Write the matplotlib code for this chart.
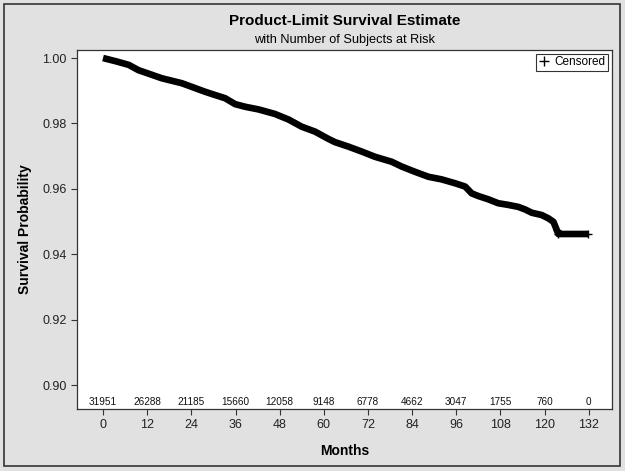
import matplotlib
matplotlib.use("Agg")
import matplotlib.pyplot as plt
from matplotlib.lines import Line2D
from matplotlib.patches import Rectangle

plt.rcParams['font.family'] = ['Liberation Sans', 'DejaVu Sans']

months = [0, 3.5, 7, 9.6, 16, 21.4, 27.7, 30.4, 33.2, 35.9, 38.6, 42.2, 46.7, 50.4,
          54, 57.6, 61.2, 63, 66.7, 70.3, 73.9, 78.4, 81.2, 84.8, 88.4, 92, 95.7,
          98.4, 100.2, 102, 104.7, 107.4, 110.1, 112.8, 114.7, 116.5, 119.2, 121,
          122.4, 123.3, 123.7, 131.8]
survival = [1.0, 0.9990, 0.9979, 0.9963, 0.9938, 0.9923, 0.9897, 0.9887, 0.9877,
            0.9859, 0.9851, 0.9843, 0.9829, 0.9812, 0.9790, 0.9775, 0.9753, 0.9743,
            0.9729, 0.9714, 0.9698, 0.9683, 0.9668, 0.9652, 0.9637, 0.9629, 0.9617,
            0.9607, 0.9586, 0.9578, 0.9568, 0.9556, 0.9551, 0.9545, 0.9537, 0.9527,
            0.9520, 0.9510, 0.9499, 0.9474, 0.9462, 0.9462]

risk_times = [0, 12, 24, 36, 48, 60, 72, 84, 96, 108, 120, 132]
at_risk = [31951, 26288, 21185, 15660, 12058, 9148, 6778, 4662, 3047, 1755, 760, 0]
yticks = [0.90, 0.92, 0.94, 0.96, 0.98, 1.00]

bg = '#e1e1e1'
fig = plt.figure(figsize=(6.25, 4.71), dpi=100, facecolor=bg)
ax = fig.add_axes([77/625, 1 - 409/471, (612-77)/625, (409-50)/471])
ax.set_facecolor('white')

ax.plot(months, survival, color='black', lw=4.8, solid_capstyle='butt', solid_joinstyle='round')
ax.plot(months[-3:], survival[-3:], color='black', marker='+', ms=6, mew=1, lw=0)

ax.set_xlim(-7.07, 138.3)
ax.set_ylim(0.8927, 1.00245)
ax.set_xticks(risk_times)
ax.set_xticklabels([str(t) for t in risk_times])
ax.set_yticks(yticks)
ax.set_yticklabels([f'{v:.2f}' for v in yticks])
ax.tick_params(labelsize=9, length=4, width=0.8, color='#333333', labelcolor='#222222')

for s in ax.spines.values():
    s.set_color('#333333')
    s.set_linewidth(0.9)

for t, n in zip(risk_times, at_risk):
    ax.text(t, 0.006, str(n), transform=ax.get_xaxis_transform(), ha='center',
            va='bottom', fontsize=7.2, color='#111111')

ax.set_xlabel('Months', fontsize=10, fontweight='bold', labelpad=9)
ax.set_ylabel('Survival Probability', fontsize=10, fontweight='bold', labelpad=7)

fig.text(345/625, 1 - 21/471, 'Product-Limit Survival Estimate', ha='center', va='center',
         fontsize=11, fontweight='bold')
fig.text(345/625, 1 - 40/471, 'with Number of Subjects at Risk', ha='center', va='center',
         fontsize=9.2)

handle = Line2D([], [], color='black', marker='+', lw=0, ms=7, mew=1)
leg = ax.legend([handle], ['Censored'], loc='upper right', fontsize=8.5, frameon=True,
                fancybox=False, handlelength=0.8, handletextpad=0.5, borderpad=0.25,
                borderaxespad=0.3)
leg.get_frame().set_edgecolor('black')
leg.get_frame().set_linewidth(0.8)

fig.patches.append(Rectangle((4/625, 5/471), 616/625, 462/471, transform=fig.transFigure,
                             fill=False, edgecolor='#333333', lw=1.2))

fig.savefig('out.png', dpi=100, facecolor=bg)
